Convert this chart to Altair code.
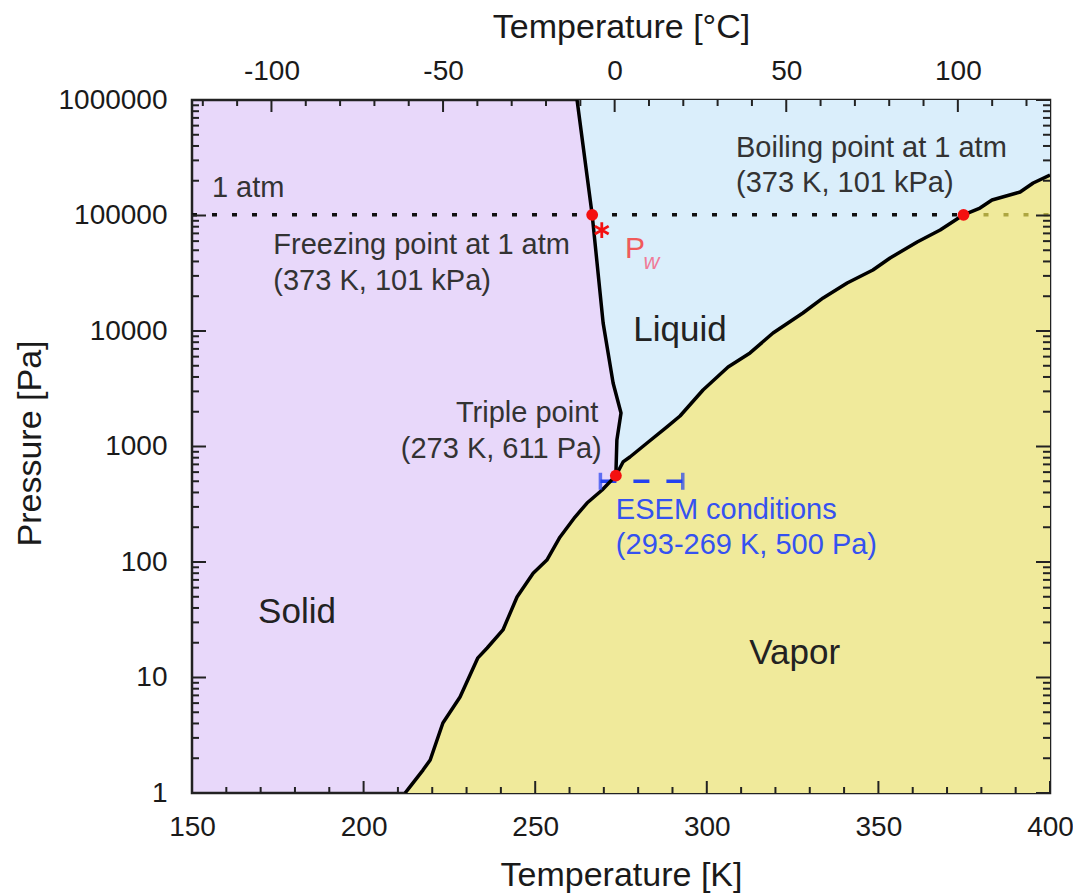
import altair as alt
import pandas as pd

# ---------------- data ----------------
# Solid / liquid boundary (melting curve), top to triple point
melt_T = [262.2, 266.6, 269.8, 272.7, 275.0, 273.8, 273.5]
melt_P = [1000000, 101325, 11700, 3550, 1950, 1140, 560]

# Solid / vapor boundary (sublimation curve)
subl_T = [212.1, 213.5, 217.3, 219.4, 223.1, 228.1, 233.3, 236.0, 240.6, 244.7,
          249.4, 253.4, 257.2, 261.6, 265.1, 269.5, 273.5]
subl_P = [1.0, 1.13, 1.58, 1.93, 4.04, 6.78, 14.8, 18.0, 25.8, 49.8,
          80, 104, 164, 245, 324, 420, 560]

# Liquid / vapor boundary (vaporization curve)
vap_T = [273.5, 275.6, 277.6, 282.6, 288.4, 292.2, 298.9, 306.2, 312.6, 319.3,
         328.0, 333.9, 340.9, 348.4, 353.4, 361.3, 368.0, 374.8, 379.6, 383.1,
         391.3, 395.1, 400.0]
vap_P = [560, 735, 811, 1072, 1476, 1837, 3083, 4875, 6457, 9616,
         14320, 19320, 26060, 33730, 42850, 59020, 74820, 101325, 116100, 136100,
         159600, 191000, 224400]

# Marked points: freezing point, triple point, boiling point
pts_T = [266.6, 273.5, 374.8]
pts_P = [101325, 560, 101325]

# 1 atm line
atm_P = 101325
atm_split_T = 374.8

# Water pressure marker P_w
pw_T = 269.4
pw_P = 74800

# ESEM conditions
esem_T = [269, 293]
esem_P = 500

# axis ticks
x_domain = [150, 400]
y_domain = [1, 1000000]
x_major = [150, 200, 250, 300, 350, 400]
x_minor = [t for t in range(160, 400, 10) if t % 50 != 0]
c_major = [-100, -50, 0, 50, 100]
c_minor = [c for c in range(-120, 130, 10) if c % 50 != 0]
y_major = [1, 10, 100, 1000, 10000, 100000, 1000000]
y_minor = [m * 10 ** k for k in range(6) for m in range(2, 10)]

# annotation texts
ann_left = ["1 atm", "Freezing point at 1 atm", "(373 K, 101 kPa)",
            "Boiling point at 1 atm", "(373 K, 101 kPa)"]
ann_left_T = [155.8, 173.7, 173.7, 308.5, 308.5]
ann_left_P = [173000, 55600, 27100, 384000, 191000]

ann_right = ["Triple point", "(273 K, 611 Pa)"]
ann_right_T = [268.4, 269.4]
ann_right_P = [1950, 951]

ann_esem = ["ESEM conditions", "(293-269 K, 500 Pa)"]
ann_esem_T = [273.5, 273.5]
ann_esem_P = [282, 140]

regions = ["Liquid", "Solid", "Vapor"]
regions_T = [292.2, 180.6, 325.6]
regions_P = [10200, 36.9, 16.3]

# ---------------- styling ----------------
W, H = 858, 693
FONT = "Liberation Sans"
C_SOLID = "#E8D8FA"
C_LIQUID = "#DAEEFB"
C_VAPOR = "#F0EA9B"
C_RED = "#F41010"
C_BLUE = "#2442F0"
C_TEXT = "#333333"

xs = alt.Scale(domain=x_domain, nice=False, zero=False)
ys = alt.Scale(type="log", domain=y_domain, nice=False)

melt_df = pd.DataFrame({"T": melt_T, "P": melt_P, "i": range(len(melt_T))})
curve_df = pd.DataFrame({"T": subl_T + vap_T[1:], "P": subl_P + vap_P[1:]})

X = lambda **kw: alt.X("T:Q", scale=xs, axis=None, **kw)
Y = lambda **kw: alt.Y("P:Q", scale=ys, axis=None, **kw)

liquid = alt.Chart(melt_df).transform_calculate(
    Tr=str(x_domain[1])
).mark_area(orient="horizontal", color=C_LIQUID, clip=True).encode(
    x=X(), x2="Tr:Q", y=Y()
)

vapor = alt.Chart(curve_df).transform_calculate(
    Pf=str(y_domain[0])
).mark_area(orient="vertical", color=C_VAPOR, clip=True).encode(
    x=X(), y=Y(), y2="Pf:Q"
)

atm_df = pd.DataFrame({"T": [x_domain[0], atm_split_T], "T2": [atm_split_T, x_domain[1]],
                       "P": [atm_P, atm_P], "part": ["a", "b"]})
atm = alt.Chart(atm_df).mark_rule(strokeWidth=3.5, strokeDash=[5, 15]).encode(
    x=X(), x2="T2:Q", y=Y(),
    color=alt.Color("part:N", scale=alt.Scale(domain=["a", "b"], range=["#111111", "#ADA640"]), legend=None),
)

melt_line = alt.Chart(melt_df).mark_line(color="black", strokeWidth=3.5, strokeJoin="round", clip=True).encode(
    x=X(), y=Y(), order="i:Q"
)
curve_line = alt.Chart(curve_df).mark_line(color="black", strokeWidth=3.5, strokeJoin="round", clip=True).encode(
    x=X(), y=Y()
)

esem_df = pd.DataFrame({"T": [esem_T[0]], "T2": [esem_T[1]], "P": [esem_P]})
esem_line = alt.Chart(esem_df).mark_rule(color=C_BLUE, strokeWidth=3.5, strokeDash=[16, 17]).encode(
    x=X(), x2="T2:Q", y=Y()
)
esem_caps = alt.Chart(pd.DataFrame({"T": esem_T, "P": [esem_P] * 2})).mark_tick(
    orient="vertical", color=C_BLUE, size=17, thickness=3.5
).encode(x=X(), y=Y())

dots = alt.Chart(pd.DataFrame({"T": pts_T, "P": pts_P})).mark_circle(
    size=140, color=C_RED, opacity=1
).encode(x=X(), y=Y())

asterisk = alt.Chart(pd.DataFrame({"T": [pw_T], "P": [pw_P]})).mark_point(
    shape="M0,-1L0,1M-0.87,-0.5L0.87,0.5M-0.87,0.5L0.87,-0.5",
    size=250, filled=False, stroke=C_RED, strokeWidth=2.8, opacity=1
).encode(x=X(), y=Y())


def texts(labels, T, P, align, size, color, italic=False):
    df = pd.DataFrame({"label": labels, "T": T, "P": P})
    return alt.Chart(df).mark_text(
        align=align, baseline="middle", font=FONT, fontSize=size, color=color,
        fontStyle="italic" if italic else "normal"
    ).encode(x=X(), y=Y(), text="label:N")


t_left = texts(ann_left, ann_left_T, ann_left_P, "left", 29, C_TEXT)
t_right = texts(ann_right, ann_right_T, ann_right_P, "right", 29, C_TEXT)
t_esem = texts(ann_esem, ann_esem_T, ann_esem_P, "left", 29, "#3552F0")
t_regions = texts(regions, regions_T, regions_P, "center", 35, "#222222")
t_P = texts(["P"], [279.1], [51300], "center", 30, "#F05A5A")
t_w = texts(["w"], [283.9], [39600], "center", 22, "#F07A98", italic=True)

# ---------------- ticks (inward) and axes ----------------
TICK = dict(color="#222222", strokeWidth=2)


def xticks(vals, length, top, axis=None, celsius=False):
    if celsius:
        base = alt.Chart(pd.DataFrame({"C": vals})).transform_calculate(T="datum.C + 273.15")
    else:
        base = alt.Chart(pd.DataFrame({"T": vals}))
    y0, y1 = (0, length) if top else (H, H - length)
    return base.mark_rule(**TICK).encode(
        x=alt.X("T:Q", scale=xs, axis=axis), y=alt.value(y0), y2=alt.value(y1)
    )


def yticks(vals, length, right, axis=None):
    x0, x1 = (W, W - length) if right else (0, length)
    return alt.Chart(pd.DataFrame({"P": vals})).mark_rule(**TICK).encode(
        y=alt.Y("P:Q", scale=ys, axis=axis), x=alt.value(x0), x2=alt.value(x1)
    )


bottom_axis = alt.Axis(orient="bottom", values=x_major, format="d", ticks=False, tickSize=0,
                       domain=False, grid=False, labelPadding=20, labelFlush=False,
                       title="Temperature [K]",
                       titleBaseline="alphabetic", titleY=92, titleX=W / 2)
top_axis = alt.Axis(orient="top", values=[round(c + 273.15, 2) for c in c_major],
                    labelExpr="toString(round(datum.value - 273.15))", ticks=False, tickSize=0,
                    domain=False, grid=False, labelPadding=15, labelFlush=False,
                    title="Temperature [°C]",
                    titleBaseline="alphabetic", titleY=-63, titleX=W / 2)
left_axis = alt.Axis(orient="left", values=y_major, format="d", ticks=False, tickSize=0,
                     domain=False, grid=False, labelPadding=25, labelFlush=False,
                     title="Pressure [Pa]",
                     titleBaseline="alphabetic", titleX=-152, titleY=343, titleAngle=-90)

ticks = [
    xticks(x_major, 12, False, axis=bottom_axis),
    xticks(x_minor, 6, False),
    xticks(c_major, 12, True, axis=top_axis, celsius=True),
    xticks(c_minor, 6, True, celsius=True),
    yticks(y_major, 14, False, axis=left_axis),
    yticks(y_minor, 7, False),
    yticks(y_major, 14, True),
    yticks(y_minor, 7, True),
]

chart = alt.layer(
    liquid, vapor, atm, esem_line, melt_line, curve_line, esem_caps,
    *ticks, dots, asterisk, t_left, t_right, t_esem, t_regions, t_P, t_w
).resolve_axis(x="independent", y="independent").properties(
    width=W, height=H,
    padding={"left": 184, "top": 92, "right": 23, "bottom": 100},
    autosize=alt.AutoSizeParams(type="none"),
    background="white",
).configure_view(
    fill=C_SOLID, stroke="#222222", strokeWidth=2.5
).configure_axis(
    labelFont=FONT, labelFontSize=28, labelColor="#1a1a1a",
    titleFont=FONT, titleFontSize=34, titleFontWeight="normal", titleColor="#1a1a1a",
)

chart.save("out.html", embed_options={"renderer": "svg", "actions": False})
